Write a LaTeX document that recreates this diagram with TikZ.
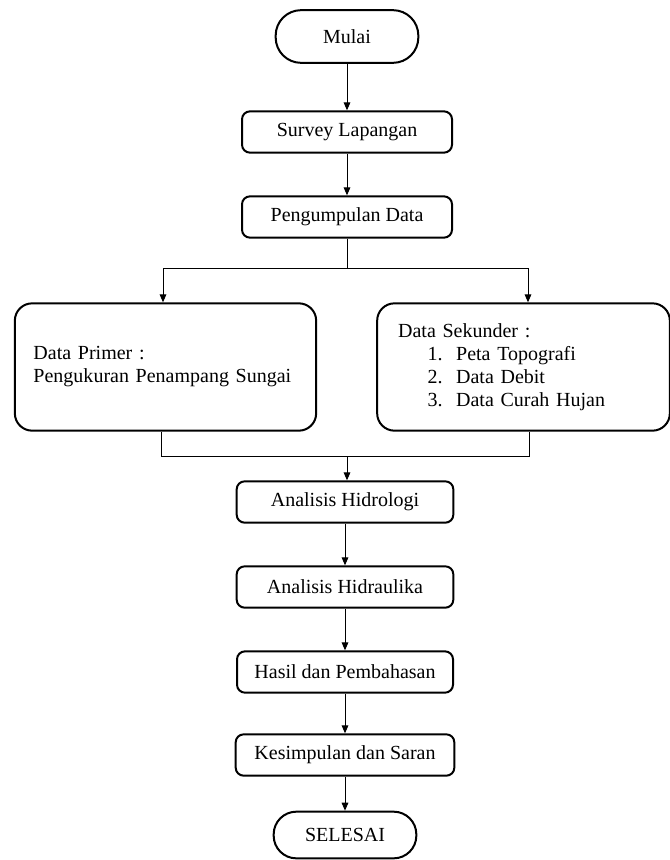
\documentclass[tikz,border=0pt]{standalone}
\usepackage{fontspec}
\setmainfont{Liberation Serif}
\usetikzlibrary{arrows.meta, positioning}

\tikzset{
  flowfont/.style={font=\fontsize{15pt}{17.25pt}\selectfont},
  terminal/.style={draw, line width=1.5pt, rounded corners=17pt, minimum width=107pt, minimum height=35pt, inner sep=0pt, flowfont},
  stepbox/.style={draw, line width=1.5pt, rounded corners=6pt, minimum width=160pt, minimum height=31pt, inner sep=0pt, flowfont},
  databox/.style={draw, line width=1.5pt, rounded corners=13pt, minimum height=95.5pt, align=left, inner xsep=14pt, flowfont},
  flowline/.style={line width=0.75pt},
  flowarrow/.style={flowline, -{Triangle[length=6pt, width=5pt]}}
}

\begin{document}
\begin{tikzpicture}[x=0.75pt, y=-0.75pt]
  \useasboundingbox (0,0) rectangle (670,860);

  % main chain, top part
  \node[terminal, minimum width=107pt, minimum height=39.5pt, rounded corners=19pt] (mulai) at (347,36.5) {Mulai};
  \node[stepbox, minimum width=157.5pt] (survey) at (347,132) {Survey Lapangan};
  \node[stepbox, minimum width=157.5pt] (kumpul) at (347,217) {Pengumpulan Data};

  % two data boxes
  \node[databox, text width=198pt] (primer) at (165.5,367) {Data Primer :\\Pengukuran Penampang Sungai};
  \node[databox, text width=188pt, inner xsep=15.75pt] (sekunder) at (523.5,367) {Data Sekunder :\\
    \hspace*{22pt}\makebox[21.5pt][l]{1.}Peta Topografi\\
    \hspace*{22pt}\makebox[21.5pt][l]{2.}Data Debit\\
    \hspace*{22pt}\makebox[21.5pt][l]{3.}Data Curah Hujan};

  % main chain, bottom part
  \node[stepbox, minimum width=162.5pt] (hidrologi) at (345,502) {Analisis Hidrologi};
  \node[stepbox, minimum width=162.5pt] (hidraulika) at (345,587) {Analisis Hidraulika};
  \node[stepbox, minimum width=162pt] (hasil) at (345,672) {Hasil dan Pembahasan};
  \node[stepbox, minimum width=164pt] (kesimpulan) at (345,755) {Kesimpulan dan Saran};
  \node[terminal] (selesai) at (345,835) {SELESAI};

  % split and merge points
  \coordinate (splitL) at (163,268);
  \coordinate (splitR) at (528,268);
  \coordinate (mergeL) at (161,456);
  \coordinate (mergeR) at (529,456);
  \coordinate (merge) at (347,456);

  % connectors
  \draw[flowarrow] (mulai) -- (survey);
  \draw[flowarrow] (survey) -- (kumpul);
  \draw[flowarrow] (kumpul.south) |- (splitL) -- (splitL |- primer.north);
  \draw[flowarrow] (kumpul.south) |- (splitR) -- (splitR |- sekunder.north);
  \draw[flowline] (primer.south -| mergeL) |- (mergeR) -- (mergeR |- sekunder.south);
  \draw[flowarrow] (merge) -- (merge |- hidrologi.north);
  \draw[flowarrow] (hidrologi) -- (hidraulika);
  \draw[flowarrow] (hidraulika) -- (hasil);
  \draw[flowarrow] (hasil) -- (kesimpulan);
  \draw[flowarrow] (kesimpulan) -- (selesai);
\end{tikzpicture}
\end{document}
